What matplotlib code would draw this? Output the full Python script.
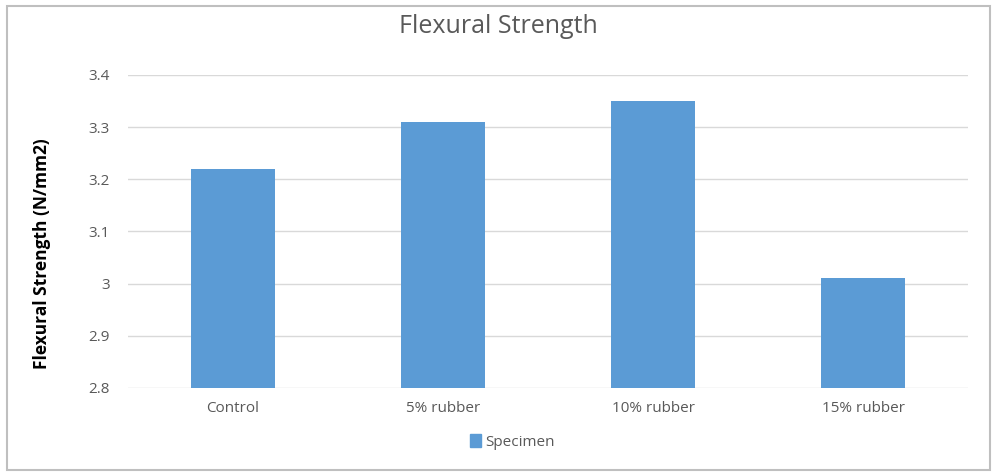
import matplotlib.pyplot as plt
from matplotlib.patches import Rectangle, Patch

categories = ['Control', '5% rubber', '10% rubber', '15% rubber']
strength = [3.22, 3.31, 3.35, 3.01]
yticks = [2.8, 2.9, 3.0, 3.1, 3.2, 3.3, 3.4]
ytick_labels = ['2.8', '2.9', '3', '3.1', '3.2', '3.3', '3.4']

BAR = '#5B9BD5'
TXT = '#595959'
plt.rcParams['font.family'] = ['Open Sans', 'DejaVu Sans']

fig = plt.figure(figsize=(9.97, 4.73), dpi=100)
# 그림 테두리
fig.patches.append(Rectangle((0.007, 0.007), 0.986, 0.98, transform=fig.transFigure,
                             fill=False, edgecolor='#bfbfbf', lw=1.5))

ax = fig.add_axes([128/997, 1 - 388/473, (968-128)/997, (388-75)/473])
x = range(len(categories))
ax.bar(x, [v - 2.8 for v in strength], bottom=2.8, width=0.4, color=BAR, zorder=3)
ax.set_xlim(-0.5, len(categories) - 0.5)
ax.set_ylim(2.8, 3.4)
ax.set_yticks(yticks)
ax.set_yticklabels(ytick_labels, color=TXT, fontsize=11)
ax.set_xticks(list(x))
ax.set_xticklabels(categories, color=TXT, fontsize=11)
ax.tick_params(length=0, pad=9)
ax.tick_params(axis='y', pad=13)
ax.grid(axis='y', color='#d9d9d9', lw=1, zorder=0)
for s in ax.spines.values():
    s.set_visible(False)

ax.set_ylabel('Flexural Strength (N/mm2)', fontsize=12.5, fontweight='bold',
              color='black')
ax.yaxis.set_label_coords(-0.092, 0.43)

fig.text(0.5, 1 - 33/473, 'Flexural Strength', ha='center', va='baseline',
         fontsize=18, color=TXT)

fig.legend(handles=[Patch(color=BAR, label='Specimen')], loc='center',
           bbox_to_anchor=(512/997, 1 - 442/473), frameon=False, fontsize=11,
           handlelength=0.75, handleheight=0.9, handletextpad=0.25, labelcolor=TXT)

fig.savefig('out.png', dpi=100)
